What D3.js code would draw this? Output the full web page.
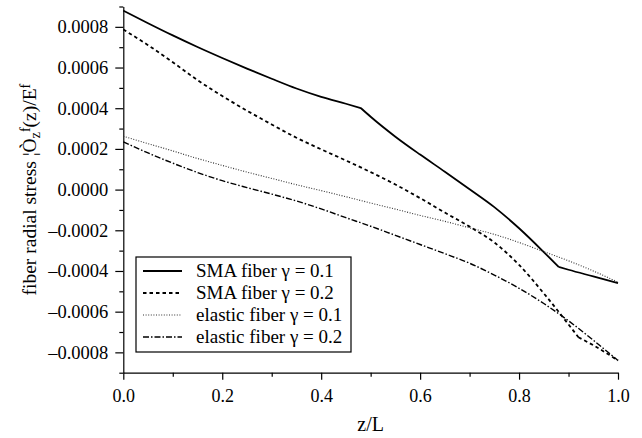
<!DOCTYPE html>
<html>
<head>
    <meta charset="utf-8">
    <style>
        body { margin: 0; background: #fff; }
        .axis path, .axis line { stroke: #000; stroke-width: 1.2; }
    </style>
</head>
<body>
<svg width="642" height="438"></svg>
<script src="https://d3js.org/d3.v7.min.js"></script>
<script>
    // values, stress in units of 1e-4
    let zSma1 = [0, 0.05, 0.1, 0.15, 0.2, 0.25, 0.3, 0.35, 0.4, 0.45, 0.48, 0.5, 0.55, 0.6, 0.65, 0.7, 0.75, 0.8, 0.85, 0.88, 0.9, 0.95, 1.0]
    let sma1 = [8.8, 8.18, 7.58, 7.01, 6.47, 5.95, 5.45, 4.97, 4.56, 4.22, 4.01, 3.58, 2.6, 1.72, 0.88, 0.02, -0.86, -1.9, -3.07, -3.8, -3.94, -4.27, -4.6]
    let sma1Kinks = [0.48, 0.88]

    let zSma2 = [0, 0.05, 0.1, 0.15, 0.2, 0.25, 0.3, 0.35, 0.4, 0.45, 0.5, 0.55, 0.6, 0.65, 0.7, 0.75, 0.8, 0.85, 0.9, 0.92, 0.95, 1.0]
    let sma2 = [7.87, 7.1, 6.26, 5.38, 4.6, 3.88, 3.2, 2.55, 1.98, 1.43, 0.86, 0.25, -0.42, -1.13, -1.82, -2.6, -3.7, -5.1, -6.63, -7.26, -7.65, -8.4]
    let sma2Kinks = [0.92]

    let zGrid = [0, 0.05, 0.1, 0.15, 0.2, 0.25, 0.3, 0.35, 0.4, 0.45, 0.5, 0.55, 0.6, 0.65, 0.7, 0.75, 0.8, 0.85, 0.9, 0.95, 1.0]
    let elastic1 = [2.62, 2.26, 1.9, 1.53, 1.19, 0.86, 0.55, 0.24, -0.05, -0.35, -0.66, -0.96, -1.27, -1.56, -1.88, -2.2, -2.6, -3.05, -3.5, -4.0, -4.55]
    let elastic2 = [2.35, 1.8, 1.3, 0.84, 0.44, 0.1, -0.22, -0.56, -0.95, -1.38, -1.8, -2.25, -2.7, -3.15, -3.62, -4.2, -4.85, -5.6, -6.45, -7.4, -8.4]

    let legendLabels = ["SMA fiber \u03b3 = 0.1", "SMA fiber \u03b3 = 0.2", "elastic fiber \u03b3 = 0.1", "elastic fiber \u03b3 = 0.2"]
    let xTicks = [0, 0.2, 0.4, 0.6, 0.8, 1.0]
    let yTicks = [-0.0008, -0.0006, -0.0004, -0.0002, 0, 0.0002, 0.0004, 0.0006, 0.0008]

    let serif = "'Liberation Serif', 'Times New Roman', Times, serif"

    let series = [
        { z: zSma1, v: sma1, kinks: sma1Kinks, dash: null, width: 1.8, color: "#000" },
        { z: zSma2, v: sma2, kinks: sma2Kinks, dash: "3.5,3", width: 1.8, color: "#000" },
        { z: zGrid, v: elastic1, kinks: [], dash: "1,1.6", width: 1.1, color: "#333" },
        { z: zGrid, v: elastic2, kinks: [], dash: "6,2,1.5,2", width: 1.4, color: "#000" }
    ]

    let svg = d3.select("svg")
    let margin = { top: 6.5, right: 24, bottom: 65.3, left: 123.3 }
    let width = 642 - margin.left - margin.right
    let height = 438 - margin.top - margin.bottom

    let x = d3.scaleLinear().domain([0, 1]).range([margin.left, margin.left + width])
    let y = d3.scaleLinear().domain([-0.0009, 0.0009]).range([margin.top + height, margin.top])

    let fmtY = d => (d < 0 ? "\u2013" : "") + d3.format(".4f")(Math.abs(d))

    // minor ticks first
    svg.append("g")
        .attr("class", "axis")
        .attr("transform", `translate(0,${margin.top + height})`)
        .call(d3.axisBottom(x).tickValues(d3.range(0.1, 1, 0.2)).tickSize(4).tickFormat(""))
        .call(g => g.select(".domain").remove())
    svg.append("g")
        .attr("class", "axis")
        .attr("transform", `translate(${margin.left},0)`)
        .call(d3.axisLeft(y).tickValues(d3.range(-0.0009, 0.00091, 0.0002)).tickSize(4).tickFormat(""))
        .call(g => g.select(".domain").remove())

    svg.append("g")
        .attr("class", "axis")
        .attr("transform", `translate(0,${margin.top + height})`)
        .call(d3.axisBottom(x).tickValues(xTicks).tickSize(7).tickSizeOuter(0).tickPadding(10).tickFormat(d3.format(".1f")))
        .call(g => g.selectAll("text").style("font-family", serif).style("font-size", "18px").attr("fill", "#000"))

    svg.append("g")
        .attr("class", "axis")
        .attr("transform", `translate(${margin.left},0)`)
        .call(d3.axisLeft(y).tickValues(yTicks).tickSize(8).tickSizeOuter(0).tickPadding(7).tickFormat(fmtY))
        .call(g => g.selectAll("text").style("font-family", serif).style("font-size", "18.5px").attr("fill", "#000"))

    let line = d3.line()
        .curve(d3.curveMonotoneX)
        .x(d => x(d[0]))
        .y(d => y(d[1] * 1e-4))

    // split each series at its kinks so the corners stay sharp
    function pathFor(s) {
        let pts = s.z.map((z, i) => [z, s.v[i]])
        let cuts = [0, ...s.kinks.map(k => s.z.indexOf(k)), pts.length - 1]
        let d = ""
        for (let i = 0; i < cuts.length - 1; i++) {
            d += line(pts.slice(cuts[i], cuts[i + 1] + 1))
        }
        return d
    }

    svg.append("g")
        .selectAll("path")
        .data(series)
        .join("path")
        .attr("d", pathFor)
        .attr("fill", "none")
        .attr("stroke", s => s.color)
        .attr("stroke-width", s => s.width)
        .attr("stroke-dasharray", s => s.dash)

    // legend
    let lg = svg.append("g").attr("transform", "translate(136,257)")
    lg.append("rect")
        .attr("width", 215)
        .attr("height", 95)
        .attr("fill", "white")
        .attr("stroke", "#000")
        .attr("stroke-width", 1.2)
    let items = lg.selectAll(".item")
        .data(series)
        .join("g")
        .attr("class", "item")
        .attr("transform", (d, i) => `translate(0,${14 + i * 22})`)
    items.append("line")
        .attr("x1", 7).attr("x2", 46)
        .attr("stroke", s => s.color)
        .attr("stroke-width", s => s.width)
        .attr("stroke-dasharray", s => s.dash)
    items.append("text")
        .attr("x", 60)
        .attr("dy", "0.33em")
        .style("font-family", serif)
        .style("font-size", "19px")
        .text((d, i) => legendLabels[i])

    // axis titles
    svg.append("text")
        .attr("x", x(0.5))
        .attr("y", 431)
        .attr("text-anchor", "middle")
        .style("font-family", serif)
        .style("font-size", "20px")
        .text("z/L")

    let yl = svg.append("text")
        .attr("transform", `translate(36,${margin.top + height / 2}) rotate(-90)`)
        .attr("text-anchor", "middle")
        .style("font-family", serif)
        .style("font-size", "19.5px")
    yl.append("tspan").text("fiber radial stress \u00a6\u00d2")
    yl.append("tspan").attr("baseline-shift", "-25%").style("font-size", "14px").text("z")
    yl.append("tspan").attr("baseline-shift", "40%").style("font-size", "14px").text("f")
    yl.append("tspan").text("(z)/E")
    yl.append("tspan").attr("baseline-shift", "40%").style("font-size", "14px").text("f")
</script>
</body>
</html>
